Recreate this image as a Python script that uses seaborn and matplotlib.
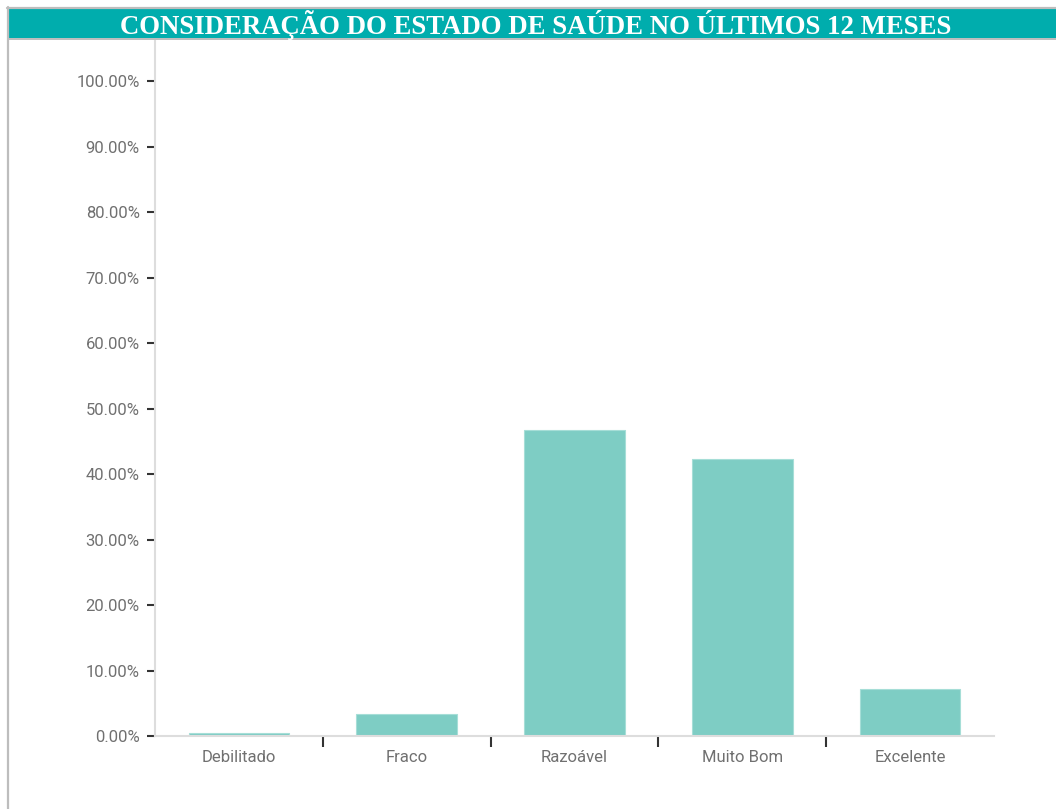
import matplotlib
matplotlib.use("Agg")
import matplotlib.pyplot as plt
import seaborn as sns
import pandas as pd
from matplotlib.patches import Rectangle
from matplotlib.lines import Line2D
from matplotlib.ticker import FuncFormatter, FixedLocator

categories = ["Debilitado", "Fraco", "Razoável", "Muito Bom", "Excelente"]
values = [0.5, 3.4, 46.7, 42.3, 7.2]
yticks = [0, 10, 20, 30, 40, 50, 60, 70, 80, 90, 100]
title = "CONSIDERAÇÃO DO ESTADO DE SAÚDE NO ÚLTIMOS 12 MESES"

sns.set_theme(style="white")
plt.rcParams['font.family'] = ['Roboto', 'DejaVu Sans']

W, H = 1056, 809
fig = plt.figure(figsize=(W / 100, H / 100), dpi=100)
fig.patch.set_facecolor("white")

def fx(px):
    return px / W

def fy(py):
    return 1 - py / H

ax = fig.add_axes([fx(155), fy(736), fx(994) - fx(155), fy(40) - fy(736)])

df = pd.DataFrame({"cat": categories, "val": values})
sns.barplot(data=df, x="cat", y="val", color="#7ECDC4", saturation=1,
            width=0.6, edgecolor="#A6DED7", linewidth=0.8, ax=ax)

ax.set_xlim(-0.5, len(categories) - 0.5)
ax.set_ylim(0, 106.3)
ax.set_xlabel("")
ax.set_ylabel("")

ax.set_yticks(yticks)
ax.yaxis.set_major_formatter(FuncFormatter(lambda v, p: f"{v:.2f}%"))
ax.tick_params(axis="y", which="major", direction="out", length=6, width=1.5,
               color="#333333", labelcolor="#707070", labelsize=12, pad=5, left=True)

ax.xaxis.set_minor_locator(FixedLocator([i + 0.5 for i in range(len(categories) - 1)]))
ax.tick_params(axis="x", which="major", length=0, labelcolor="#707070", labelsize=12, pad=10)
ax.tick_params(axis="x", which="minor", direction="out", length=8, width=1.5,
               color="#333333", bottom=True)

for s in ["top", "right"]:
    ax.spines[s].set_visible(False)
for s in ["left", "bottom"]:
    ax.spines[s].set_color("#DDDDDD")
    ax.spines[s].set_linewidth(1.5)

# title band and frame
fig.patches.append(Rectangle((fx(9), fy(38)), 1 - fx(9), fy(9) - fy(38),
                             transform=fig.transFigure, facecolor="#00ADAD",
                             edgecolor="none", zorder=1))
grey = "#BDBDBD"
fig.lines.append(Line2D([fx(7), 1], [fy(8), fy(8)], transform=fig.transFigure, color=grey, lw=1.6))
fig.lines.append(Line2D([fx(9), 1], [fy(38.5), fy(38.5)], transform=fig.transFigure, color=grey, lw=1.4))
fig.lines.append(Line2D([fx(8), fx(8)], [fy(7), 0], transform=fig.transFigure, color=grey, lw=1.6))

fig.text(fx(536), fy(24.5), title, ha="center", va="center", color="white",
         fontsize=19.3, fontweight="bold", family=["Liberation Serif", "DejaVu Serif"], zorder=3)

fig.savefig("out.png", dpi=100, facecolor="white")
